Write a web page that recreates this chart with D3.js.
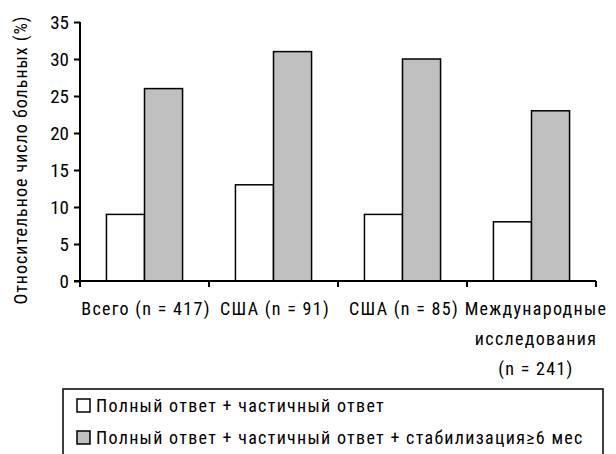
<!DOCTYPE html>
<html><head><meta charset="utf-8">
<script src="https://cdn.jsdelivr.net/npm/d3@7"></script>
<style>body{margin:0;background:#fff}svg{display:block}text{font-family:"Liberation Sans Narrow","Roboto Condensed","Arial Narrow",sans-serif;fill:#000}</style>
</head><body><svg id="c" width="616" height="454"></svg>
<script>
const categories = [["Всего (n = 417)"],["США (n = 91)"],["США (n = 85)"],["Международные","исследования","(n = 241)"]];
const series1 = [9, 13, 9, 8];
const series2 = [26, 31, 30, 23];
const seriesNames = ["Полный ответ + частичный ответ","Полный ответ + частичный ответ + стабилизация\u22656 мес"];
const yTicks = [0,5,10,15,20,25,30,35];
const colors = ["#ffffff","#c0c0c0"];

const svg = d3.select("#c");
const W = 596, H = 281;
const x = d3.scaleBand().domain(d3.range(categories.length)).range([80, W]).paddingInner(0.41).paddingOuter(0.205);
const y = d3.scaleLinear().domain([0,35]).range([H, 22]);
const bw = x.bandwidth()/2;

const g = svg.append("g");
categories.forEach((c,i)=>{
  [series1[i], series2[i]].forEach((v,j)=>{
    g.append("rect").attr("x", x(i)+j*bw).attr("y", y(v)).attr("width", bw).attr("height", y(0)-y(v))
      .attr("fill", colors[j]).attr("stroke","#000").attr("stroke-width",1.5);
  });
});

const ya = svg.append("g").attr("transform","translate(80,0)")
  .call(d3.axisLeft(y).tickValues(yTicks).tickSize(6).tickPadding(5));
ya.select(".domain").attr("stroke-width",2).attr("d","M0,"+H+"V22");
ya.selectAll(".tick line").attr("stroke-width",2);
ya.selectAll("text").attr("font-size",19).attr("font-family",null);

const xa = svg.append("g").attr("transform","translate(0,"+H+")");
xa.append("line").attr("x1",74).attr("x2",W).attr("stroke","#000").attr("stroke-width",2);
const step = x.step();
d3.range(categories.length+1).forEach(i=>{
  const xx = 80 + i*step;
  xa.append("line").attr("x1",xx).attr("x2",xx).attr("y1",0).attr("y2",6).attr("stroke","#000").attr("stroke-width",2);
});
const cxs = [146, 275, 404, 536];
categories.forEach((c,i)=>{
  c.forEach((line,k)=>{
    svg.append("text").attr("x",cxs[i]).attr("y",315+k*30).attr("text-anchor","middle").attr("font-size",18)
      .attr("letter-spacing",1.3).text(line);
  });
});

svg.append("text").attr("transform","translate(27,160) rotate(-90)").attr("text-anchor","middle").attr("font-size",18)
  .attr("letter-spacing",1).text("Относительное число больных (%)");

svg.append("rect").attr("x",63).attr("y",389).attr("width",540).attr("height",80).attr("fill","none").attr("stroke","#000").attr("stroke-width",1.5);
seriesNames.forEach((n,i)=>{
  const yy = 399 + i*32;
  svg.append("rect").attr("x",77).attr("y",yy).attr("width",13).attr("height",13).attr("fill",colors[i]).attr("stroke","#000").attr("stroke-width",1.5);
  svg.append("text").attr("x",96).attr("y",yy+13).attr("font-size",18).attr("letter-spacing",1.3).text(n);
});
</script></body></html>
